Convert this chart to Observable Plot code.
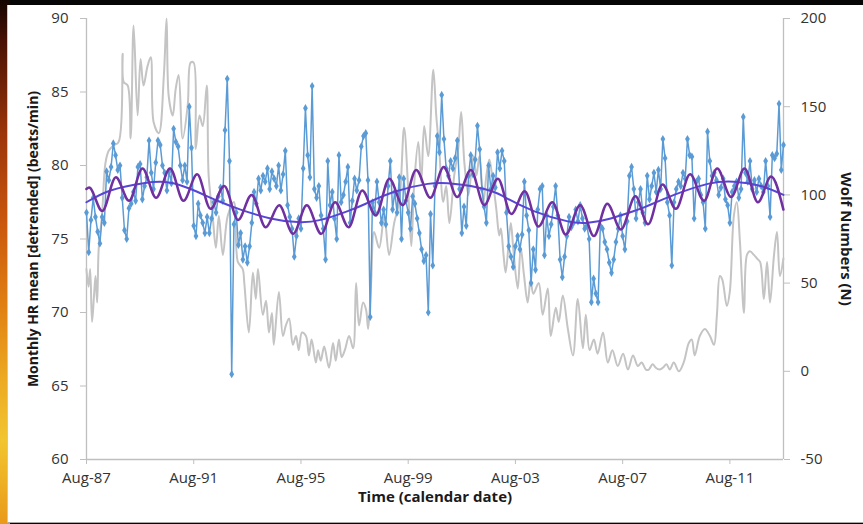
<!DOCTYPE html>
<html>
<head>
<meta charset="utf-8">
<script src="https://cdn.jsdelivr.net/npm/d3@7"></script>
<script src="https://cdn.jsdelivr.net/npm/@observablehq/plot@0.6"></script>
<style>
html,body{margin:0;padding:0;background:#000;}
#wrap{position:relative;width:863px;height:524px;overflow:hidden;background:#060606;}
#sun{position:absolute;left:0;top:0;width:10px;height:524px;
 background:linear-gradient(to bottom,#140400 0%,#4a1204 8%,#9a340a 25%,#c9560d 42%,#e07f12 58%,#eca922 72%,#f2c530 84%,#e99a18 100%);}
#panel{position:absolute;left:7px;top:5px;width:856px;height:518px;background:#fff;
 border-left:1px solid #c8c8c8;border-bottom:1px solid #a8a8a8;box-sizing:border-box;}
#chart{position:absolute;left:0;top:0;}
</style>
</head>
<body>
<div id="wrap"><div id="sun"></div><div id="panel"></div><div id="chart"></div></div>
<script>
// ---- data ----
const hrStartYear = 1987 + 7 / 12; // Aug-87, monthly values
const hrMonthly = [
 76.8, 74.1, 76.3, 77.8, 76.5, 75.5, 74.7, 76.5, 76.1, 79.6, 79.0, 79.9,
 81.5, 80.7, 79.7, 80.0, 77.8, 75.6, 75.0, 77.1, 77.4, 78.2, 77.6, 79.9,
 80.1, 77.7, 78.6, 79.2, 81.7, 79.5, 78.4, 80.2, 81.7, 81.4, 80.0, 79.5,
 78.3, 79.6, 78.8, 82.5, 81.6, 81.3, 80.0, 79.0, 80.0, 78.9, 84.0, 81.2,
 75.9, 75.2, 77.4, 76.6, 76.1, 75.4, 76.5, 75.4, 76.4, 77.5, 76.8, 77.9,
 78.5, 77.6, 82.4, 85.9, 80.3, 65.8, 76.0, 76.8, 74.6, 75.4, 73.6, 74.5,
 73.4, 74.5, 76.1, 78.2, 77.4, 79.1, 78.3, 79.3, 78.9, 79.8, 78.4, 79.6,
 79.1, 78.6, 80.0, 78.3, 79.4, 81.0, 77.3, 76.5, 75.7, 73.8, 75.2, 76.4,
 75.7, 79.8, 83.9, 80.7, 79.2, 85.4, 78.4, 77.8, 78.6, 76.6, 75.7, 73.6,
 80.3, 77.3, 78.2, 76.4, 75.0, 80.7, 77.5, 78.0, 78.9, 79.9, 76.1, 77.6,
 79.1, 78.3, 79.0, 81.3, 82.0, 82.2, 79.0, 69.7, 77.5, 76.8, 78.9, 77.5,
 76.1, 77.0, 76.0, 78.6, 80.3, 77.0, 78.2, 76.8, 79.2, 75.0, 79.1, 77.6,
 76.8, 75.7, 77.9, 77.4, 76.4, 75.4, 74.3, 73.5, 73.9, 70.0, 76.7, 73.2,
 78.6, 82.0, 80.9, 84.8, 81.8, 79.8, 79.3, 80.3, 79.8, 80.5, 81.7, 78.4,
 75.4, 77.2, 75.9, 79.3, 80.7, 79.4, 80.4, 82.7, 81.1, 78.4, 77.2, 76.1,
 80.0, 78.4, 79.3, 78.5, 80.9, 79.8, 81.0, 80.3, 76.8, 74.5, 73.8, 73.1,
 74.5, 75.2, 74.3, 75.3, 78.9, 76.6, 75.6, 72.0, 74.3, 72.9, 77.0, 78.4,
 78.6, 73.9, 76.6, 75.2, 76.0, 77.2, 78.6, 76.6, 73.6, 72.4, 73.8, 75.2,
 76.5, 75.8, 76.1, 77.0, 76.2, 77.3, 76.4, 75.7, 75.9, 75.0, 70.7, 72.3,
 71.3, 70.7, 75.9, 75.7, 74.8, 74.3, 73.4, 72.7, 73.6, 74.8, 75.7, 76.6,
 75.2, 74.3, 76.2, 79.3, 79.9, 78.4, 76.4, 77.5, 78.4, 76.8, 76.1, 79.3,
 77.7, 78.6, 79.5, 78.2, 79.7, 78.4, 81.8, 80.5, 77.5, 76.6, 73.2, 77.5,
 78.4, 78.9, 78.6, 79.5, 79.1, 81.8, 80.7, 80.6, 76.4, 78.9, 79.1, 78.0,
 77.5, 75.7, 82.3, 80.3, 79.3, 79.5, 79.0, 78.0, 78.5, 79.1, 77.7, 77.3,
 76.1, 78.2, 78.6, 78.9, 77.8, 78.4, 83.3, 79.5, 78.9, 80.3, 78.4, 79.0,
 78.2, 79.1, 78.6, 78.2, 80.3, 78.6, 76.5, 80.7, 80.5, 80.8, 84.2, 79.7,
 81.4
];

// Wolf numbers: [decimal year, N]
const wolf = [
 [1987.58,58],[1987.66,48],[1987.72,58],[1987.79,28],[1987.86,42],[1987.92,54],[1987.98,39],
 [1988.04,70],[1988.16,88],[1988.29,118],[1988.41,125],[1988.59,128],[1988.78,130],[1988.93,180],[1988.97,164],
 [1989.12,162],[1989.23,132],[1989.34,196],[1989.49,145],[1989.60,177],[1989.71,162],[1989.86,173],[1989.98,178],
 [1990.09,141],[1990.28,135],[1990.47,168],[1990.57,200],[1990.65,156],[1990.80,145],[1990.91,160],
 [1991.02,168],[1991.17,132],[1991.36,151],[1991.47,175],[1991.58,175],[1991.66,126],[1991.80,145],[1991.92,139],
 [1992.07,162],[1992.14,111],[1992.29,88],[1992.41,70],[1992.52,88],[1992.67,66],[1992.85,88],
 [1993.08,96],[1993.23,62],[1993.41,58],[1993.47,50],[1993.64,22],[1993.79,56],[1993.90,41],[1993.98,58],
 [1994.16,32],[1994.28,40],[1994.39,22],[1994.50,33],[1994.57,15],[1994.76,45],[1994.91,20],
 [1995.02,26],[1995.14,30],[1995.28,15],[1995.40,20],[1995.50,12],[1995.62,22],[1995.77,20],[1995.88,9],[1995.98,18],
 [1996.14,5],[1996.22,12],[1996.32,6],[1996.45,14],[1996.63,2],[1996.78,16],[1996.88,6],
 [1997.00,18],[1997.10,8],[1997.22,12],[1997.38,20],[1997.53,13],[1997.64,50],[1997.75,26],[1997.90,39],
 [1998.01,35],[1998.09,24],[1998.20,50],[1998.31,79],[1998.50,70],[1998.69,88],[1998.87,66],
 [1999.06,84],[1999.25,96],[1999.43,138],[1999.58,104],[1999.70,71],[1999.81,107],[1999.96,130],
 [2000.07,107],[2000.18,139],[2000.33,122],[2000.52,171],[2000.63,145],[2000.74,126],[2000.89,96],
 [2001.00,105],[2001.12,84],[2001.30,111],[2001.45,126],[2001.56,147],[2001.68,118],[2001.83,100],
 [2002.01,122],[2002.13,111],[2002.24,122],[2002.39,96],[2002.50,111],[2002.61,120],[2002.72,110],[2002.87,92],[2002.98,77],
 [2003.04,81],[2003.14,66],[2003.22,56],[2003.41,84],[2003.50,70],[2003.67,47],[2003.78,70],[2003.90,55],
 [2004.04,39],[2004.15,52],[2004.25,44],[2004.45,50],[2004.60,32],[2004.79,47],[2004.90,20],
 [2005.09,36],[2005.20,28],[2005.35,43],[2005.54,24],[2005.73,9],[2005.91,41],
 [2006.10,13],[2006.21,32],[2006.35,12],[2006.51,18],[2006.65,10],[2006.85,22],
 [2007.03,5],[2007.20,12],[2007.40,3],[2007.60,10],[2007.78,1],[2007.97,9],
 [2008.15,3],[2008.29,5],[2008.45,1],[2008.56,1],[2008.70,4],[2008.82,2],[2008.95,1],
 [2009.08,2],[2009.22,4],[2009.34,1],[2009.49,5],[2009.68,0],[2009.86,5],
 [2010.05,16],[2010.16,18],[2010.27,9],[2010.46,20],[2010.65,24],[2010.84,20],[2010.99,15],
 [2011.10,32],[2011.21,54],[2011.30,52],[2011.47,37],[2011.58,45],[2011.73,88],[2011.84,96],[2011.96,73],
 [2012.11,33],[2012.22,66],[2012.33,68],[2012.48,66],[2012.59,64],[2012.71,62],[2012.85,41],[2012.97,62],
 [2013.08,39],[2013.23,66],[2013.34,79],[2013.45,54],[2013.58,64]
];

// Long-term (solar-cycle) fit of HR: [decimal year, bpm]
const trendFit = [
 [1987.58,77.5],[1988.48,78.3],[1989.71,78.8],[1990.65,78.85],[1991.47,78.4],[1992.47,77.6],
 [1993.33,77.0],[1994.45,76.4],[1995.46,76.15],[1996.32,76.3],[1997.33,76.9],[1998.0,77.4],
 [1999.04,78.2],[2000.31,78.75],[2001.06,78.8],[2001.92,78.6],[2002.78,78.2],[2003.23,77.8],
 [2004.27,76.9],[2005.54,76.2],[2006.29,76.1],[2007.14,76.4],[2008.0,76.9],[2008.45,77.2],
 [2009.5,78.0],[2010.76,78.75],[2011.73,78.9],[2012.74,78.6],[2013.58,78.0]
];

// Fit with annual component: peaks and troughs [decimal year, bpm]
const annualFit = [
 [1987.58,78.4],[1987.68,78.5],[1988.17,76.9],[1988.68,79.2],[1989.17,77.6],[1989.67,79.8],
 [1990.18,77.8],[1990.70,79.8],[1991.20,77.6],[1991.71,79.4],[1992.21,77.05],[1992.72,78.6],
 [1993.24,76.3],[1993.74,78.0],[1994.27,75.8],[1994.77,77.3],[1995.29,75.35],[1995.80,77.3],
 [1996.34,75.35],[1996.86,77.5],[1997.36,75.8],[1997.87,78.3],[1998.37,76.6],[1998.88,79.1],
 [1999.38,77.3],[1999.88,79.7],[2000.41,77.8],[2000.91,79.9],[2001.41,77.85],[2001.92,79.7],
 [2002.42,77.3],[2002.93,79.1],[2003.43,76.7],[2003.93,78.25],[2004.44,75.85],[2004.96,77.5],
 [2005.46,75.3],[2006.00,77.3],[2006.51,75.2],[2007.01,77.4],[2007.52,75.65],[2008.06,77.9],
 [2008.53,76.0],[2009.07,78.7],[2009.57,77.05],[2010.10,79.4],[2010.62,77.6],[2011.11,79.8],
 [2011.63,77.85],[2012.13,79.8],[2012.63,77.5],[2013.12,79.25],[2013.58,77.0]
];

const xDomain = [1987 + 7 / 12, 2013 + 7 / 12];
const xTickYears = [1987, 1991, 1995, 1999, 2003, 2007, 2011].map(y => y + 7 / 12);
const xTickLabels = ["Aug-87", "Aug-91", "Aug-95", "Aug-99", "Aug-03", "Aug-07", "Aug-11"];
const hrTicks = [60, 65, 70, 75, 80, 85, 90];
const wolfTicks = [-50, 0, 50, 100, 150, 200];
const hrDomain = [60, 90];
const wolfDomain = [-50, 200];

// ---- chart ----
const toHR = n => hrDomain[0] + (n - wolfDomain[0]) * (hrDomain[1] - hrDomain[0]) / (wolfDomain[1] - wolfDomain[0]);
const fromHR = v => wolfDomain[0] + (v - hrDomain[0]) * (wolfDomain[1] - wolfDomain[0]) / (hrDomain[1] - hrDomain[0]);
const axisGray = "#bfbfbf";
const textCol = "#333333";

const chart = Plot.plot({
  width: 863,
  height: 524,
  marginLeft: 86,
  marginRight: 80,
  marginTop: 18,
  marginBottom: 65,
  style: {background: "transparent", fontFamily: "'Open Sans', sans-serif", fontSize: "15px"},
  x: {domain: xDomain},
  y: {domain: hrDomain},
  marks: [
    Plot.ruleY([hrDomain[0]], {stroke: axisGray, strokeWidth: 1.3}),
    Plot.ruleX(xDomain, {stroke: axisGray, strokeWidth: 1.3}),
    Plot.axisX(xTickYears, {
      anchor: "bottom", tickSize: 5, tickPadding: 8, stroke: axisGray, fill: textCol,
      tickFormat: d => xTickLabels[Math.round((d - xTickYears[0]) / 4)], label: null, fontSize: 15
    }),
    Plot.axisY(hrTicks, {anchor: "left", tickSize: 6, tickPadding: 12, stroke: axisGray, fill: textCol, label: null, fontSize: 15}),
    Plot.axisY(wolfTicks.map(toHR), {
      anchor: "right", tickSize: 6, tickPadding: 11, stroke: axisGray, fill: textCol, label: null, fontSize: 15,
      tickFormat: d => String(Math.round(fromHR(d)))
    }),
    Plot.line(wolf, {x: d => d[0], y: d => toHR(d[1]), stroke: "#c4c4c4", strokeWidth: 2, curve: "catmull-rom"}),
    Plot.line(hrMonthly, {x: (d, i) => hrStartYear + i / 12, y: d => d, stroke: "#5b9bd5", strokeWidth: 1.5}),
    Plot.dot(hrMonthly, {x: (d, i) => hrStartYear + i / 12, y: d => d, symbol: "diamond", r: 2.5, fill: "#5b9bd5"}),
    Plot.line(trendFit, {x: d => d[0], y: d => d[1], stroke: "#5646d8", strokeWidth: 2, curve: "natural"}),
    Plot.line(annualFit, {x: d => d[0], y: d => d[1], stroke: "#7030a0", strokeWidth: 2.5, curve: "monotone-x"}),
    Plot.text(["Time (calendar date)"], {frameAnchor: "bottom", dy: 38, textAnchor: "middle", lineAnchor: "middle",
      fontWeight: "bold", fontSize: 15, fill: "#1a1a1a"}),
    Plot.text(["Monthly HR mean [detrended] (beats/min)"], {frameAnchor: "left", dx: -53, rotate: -90,
      textAnchor: "middle", lineAnchor: "middle", fontWeight: "bold", fontSize: 14, fill: "#1a1a1a"}),
    Plot.text(["Wolf Numbers (N)"], {frameAnchor: "right", dx: 62, rotate: 90,
      textAnchor: "middle", lineAnchor: "middle", fontWeight: "bold", fontSize: 15, fill: "#1a1a1a"})
  ]
});
document.getElementById("chart").appendChild(chart);
</script>
</body>
</html>
